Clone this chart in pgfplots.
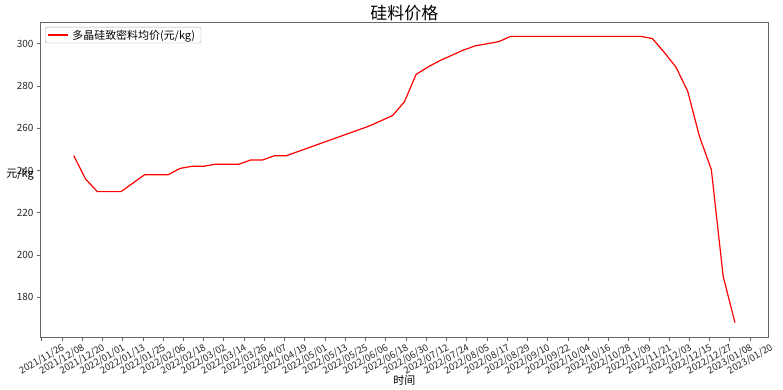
\documentclass[border=0pt]{standalone}
\usepackage{fontspec}
\setmainfont{Noto Sans CJK SC}
\usepackage{pgfplots}
\pgfplotsset{compat=1.18}
\begin{document}
\begin{tikzpicture}
\begin{axis}[
  scale only axis, width=727.3bp, height=315bp,
  xmin=-0.6, xmax=430.6, ymin=161.2, ymax=310.3,
  xtick={0,12,...,420},
  xticklabels={2021/11/26,2021/12/08,2021/12/20,2022/01/01,2022/01/13,2022/01/25,2022/02/06,2022/02/18,2022/03/02,2022/03/14,2022/03/26,2022/04/07,2022/04/19,2022/05/01,2022/05/13,2022/05/25,2022/06/06,2022/06/18,2022/06/30,2022/07/12,2022/07/24,2022/08/05,2022/08/17,2022/08/29,2022/09/10,2022/09/22,2022/10/04,2022/10/16,2022/10/28,2022/11/09,2022/11/21,2022/12/03,2022/12/15,2022/12/27,2023/01/08,2023/01/20},
  ytick={180,200,...,300},
  tick align=outside, tick pos=left, major tick length=3.5bp,
  axis line style={black!60, line width=0.8bp},
  every tick/.style={black!60, line width=0.8bp},
  /pgf/number format/assume math mode=true,
  yticklabel style={font=\fontsize{10}{12}\selectfont, inner sep=0pt, anchor=east, xshift=-3.5bp, text=black!85},
  xticklabel style={font=\fontsize{9.6}{11}\selectfont, inner sep=0pt, yshift=-19bp, rotate=30, anchor=center, text=black!85},
  every axis title/.style={at={(rel axis cs:0.5,1)}, anchor=center, yshift=8.5bp, font=\fontsize{17}{19}\selectfont},
  title={硅料价格},
  every axis x label/.style={at={(rel axis cs:0.5,0)}, anchor=center, yshift=-43bp, font=\fontsize{11}{13}\selectfont},
  xlabel={时间},
  every axis y label/.style={at={(rel axis cs:0,0.5)}, anchor=center, xshift=-20.7bp, yshift=4.5bp, font=\fontsize{11}{13}\selectfont},
  ylabel={元/kg},
  legend style={at={(rel axis cs:0,1)}, anchor=north west, xshift=4.3bp, yshift=-5bp, draw=black!35, rounded corners=2bp, font=\fontsize{11}{13}\selectfont, inner xsep=2bp, inner ysep=0.5bp, fill=white, nodes={inner xsep=4bp}},
  legend cell align=left,
  legend image code/.code={\draw[#1] (0bp,0bp) -- (20bp,0bp);},
]
\addplot[red, line width=1.2bp, mark=none] coordinates {
(19,247) (26,236) (33,230) (40,230) (47,230) (54,234) (61,238) (68,238) (75,238)
(82,241) (89,242) (96,242) (103,243) (110,243) (117,243) (124,245) (131,245)
(138,247) (145,247) (152,249) (159,251) (166,253) (173,255) (180,257) (187,259)
(194,261) (201,263.5) (208,266) (215,272.5) (222,285.5) (229,289) (236,292)
(243,294.5) (250,297) (257,299) (264,300) (271,301) (278,303.5) (285,303.5)
(292,303.5) (299,303.5) (306,303.5) (313,303.5) (320,303.5) (327,303.5)
(334,303.5) (341,303.5) (348,303.5) (355,303.5) (362,302.5) (369,296)
(376,289) (383,277.5) (390,256) (397,240.5) (404,190) (411,168)
};
\addlegendentry{多晶硅致密料均价(元/kg)}
\end{axis}
\pgfresetboundingbox
\path ([xshift=-40.7bp,yshift=-53bp]current axis.south west) rectangle ([xshift=15bp,yshift=22bp]current axis.north east);
\end{tikzpicture}
\end{document}
